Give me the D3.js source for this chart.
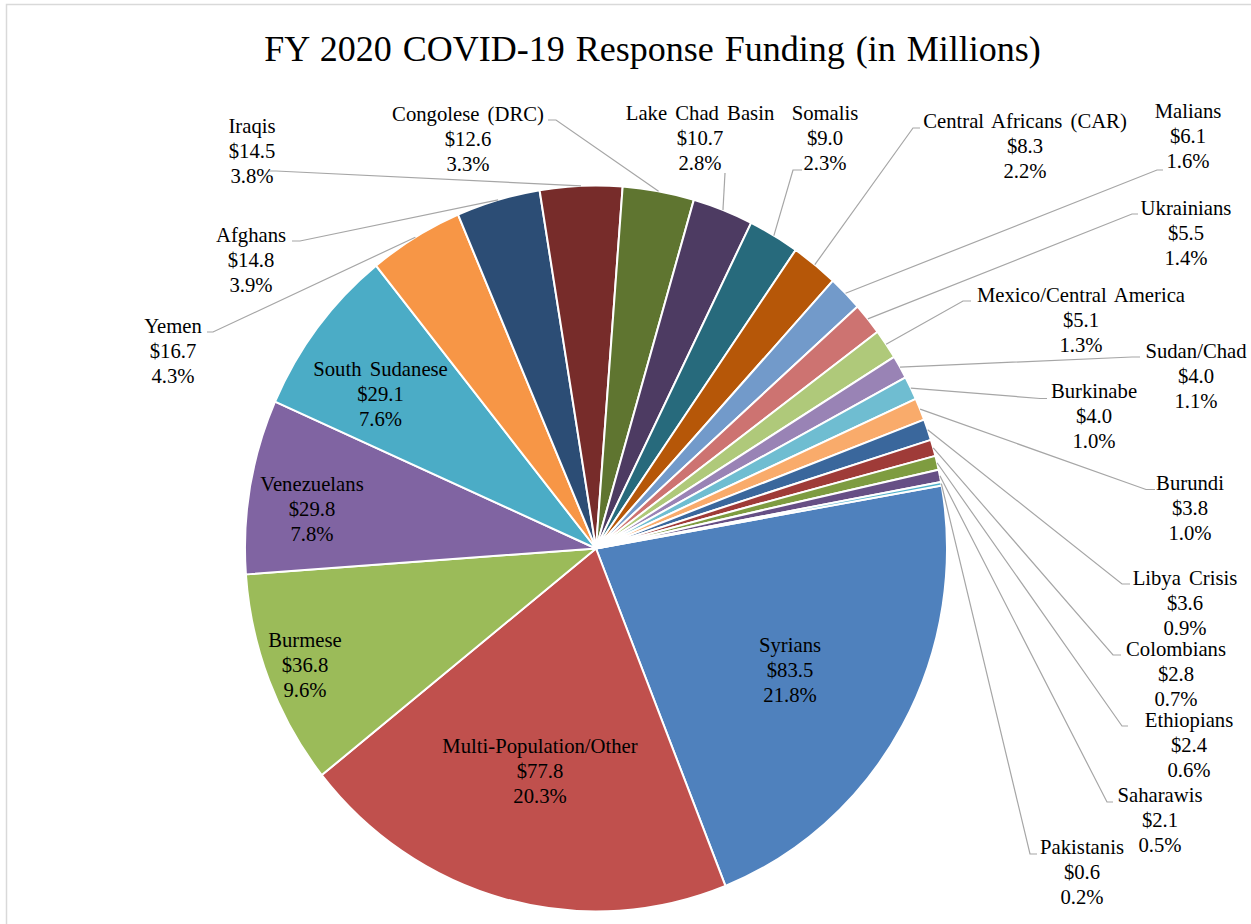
<!DOCTYPE html>
<html>
<head>
<meta charset="utf-8">
<script src="https://cdn.jsdelivr.net/npm/d3@7"></script>
<style>
  html, body { margin: 0; padding: 0; background: #fff; }
  svg { display: block; }
  text { font-family: "Liberation Serif", "Times New Roman", serif; fill: #000; }
</style>
</head>
<body>
<div id="chart"></div>
<script>
// ---------- DATA ----------
const title = "FY 2020 COVID-19 Response Funding (in Millions)";
const categories = [
  "Syrians", "Multi-Population/Other", "Burmese", "Venezuelans", "South Sudanese",
  "Yemen", "Afghans", "Iraqis", "Congolese (DRC)", "Lake Chad Basin", "Somalis",
  "Central Africans (CAR)", "Malians", "Ukrainians", "Mexico/Central America",
  "Sudan/Chad", "Burkinabe", "Burundi", "Libya Crisis", "Colombians",
  "Ethiopians", "Saharawis", "Pakistanis"
];
const values = [
  83.5, 77.8, 36.8, 29.8, 29.1, 16.7, 14.8, 14.5, 12.6, 10.7, 9.0,
  8.3, 6.1, 5.5, 5.1, 4.0, 4.0, 3.8, 3.6, 2.8, 2.4, 2.1, 0.6
];
const percentLabels = [
  "21.8%", "20.3%", "9.6%", "7.8%", "7.6%", "4.3%", "3.9%", "3.8%", "3.3%", "2.8%", "2.3%",
  "2.2%", "1.6%", "1.4%", "1.3%", "1.1%", "1.0%", "1.0%", "0.9%", "0.7%", "0.6%", "0.5%", "0.2%"
];
const colors = [
  "#4F81BD", "#C0504D", "#9BBB59", "#8064A2", "#4BACC6", "#F79646",
  "#2C4D75", "#772C2A", "#5F7530", "#4D3B62", "#276A7C", "#B65708",
  "#729ACA", "#CD7371", "#AFC97A", "#9983B5", "#6FBDD1", "#F9AB6B",
  "#3A679C", "#9F3B38", "#7E9C40", "#664F85", "#4DB0CA"
];

// ---------- LAYOUT ----------
const W = 1251, H = 924;
const cx = 596, cy = 548.5, r = 351, ky = 363 / 351;
const firstSliceAngle = 80; // degrees
const lineH = 25;
// label placement: [textCenterX, firstBaseline, elbowX, elbowY, endX] ; inside labels have no leader
const labelLayout = [
  [790, 652], [540, 753], [305, 647], [312, 491], [380.5, 376],
  [173, 333, 213, 332, 207],
  [251, 242, 300, 241, 292],
  [252, 133, 276, 171, 268],
  [468, 121, 556, 120, 548],
  [700, 120, 725, 173, 725],
  [825, 120, 793, 170, 802],
  [1025, 128, 913, 128, 920],
  [1188, 118, 1157, 170, 1163],
  [1186, 215, 1132, 214, 1138],
  [1081, 302, 963, 301, 971],
  [1196, 358, 1132, 357, 1140],
  [1094, 398, 1040, 398.5, 1047],
  [1190, 490, 1146, 489.5, 1155],
  [1185, 585, 1122, 584, 1130],
  [1176, 656, 1113, 655, 1121],
  [1189, 727, 1122, 726, 1128],
  [1160, 802, 1107, 802, 1113],
  [1082, 854, 1030, 854, 1037]
];

// ---------- DRAW ----------
const svg = d3.select("#chart").append("svg").attr("width", W).attr("height", H);
svg.append("rect").attr("width", W).attr("height", H).attr("fill", "#fff");

// chart frame
svg.append("path")
  .attr("d", `M6.5,${H + 5} L6.5,4.5 L${W + 5},4.5`)
  .attr("fill", "none").attr("stroke", "#d9d9d9").attr("stroke-width", 1.5);

// title
svg.append("text")
  .attr("x", 652.5).attr("y", 61)
  .attr("text-anchor", "middle")
  .style("font-size", "36px")
  .style("word-spacing", "2px")
  .text(title);

const deg = Math.PI / 180;
const pie = d3.pie().sort(null).value(d => d)
  .startAngle(firstSliceAngle * deg).endAngle((firstSliceAngle + 360) * deg);
const arcs = pie(values);
const arc = d3.arc().innerRadius(0).outerRadius(r);

const g = svg.append("g").attr("transform", `translate(${cx},${cy}) scale(1,${ky})`);
g.selectAll("path.slice").data(arcs).enter().append("path")
  .attr("class", "slice")
  .attr("d", arc)
  .attr("fill", (d, i) => colors[i])
  .attr("stroke", "#fff")
  .attr("stroke-width", 2)
  .attr("vector-effect", "non-scaling-stroke")
  .attr("stroke-linejoin", "round");

// leader lines
const leaders = svg.append("g");
arcs.forEach((a, i) => {
  const L = labelLayout[i];
  if (L.length < 5) return;
  const mid = (a.startAngle + a.endAngle) / 2;
  const px = cx + r * Math.sin(mid);
  const py = cy - r * ky * Math.cos(mid);
  leaders.append("path")
    .attr("d", `M${px},${py} L${L[2]},${L[3]} L${L[4]},${L[3]}`)
    .attr("fill", "none")
    .attr("stroke", "#a6a6a6")
    .attr("stroke-width", 1.2);
});

// labels
const labels = svg.append("g");
arcs.forEach((a, i) => {
  const L = labelLayout[i];
  const t = labels.append("text")
    .attr("text-anchor", "middle")
    .style("font-size", "20.7px")
    .style("word-spacing", "3px");
  const lines = [categories[i], "$" + values[i].toFixed(1), percentLabels[i]];
  lines.forEach((s, k) => {
    t.append("tspan").attr("x", L[0]).attr("y", L[1] + k * lineH).text(s);
  });
});
</script>
</body>
</html>
